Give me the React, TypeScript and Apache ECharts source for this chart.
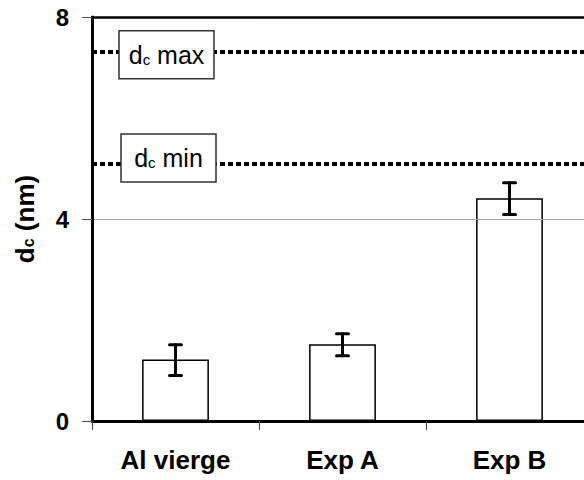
import React, { useEffect, useRef } from "react";
import * as echarts from "echarts";

const categories = ["Al vierge", "Exp A", "Exp B"];
const values = [1.22, 1.52, 4.41];
const errLow = [0.9, 1.29, 4.09];
const errHigh = [1.51, 1.73, 4.72];
const dcMax = 7.31;
const dcMin = 5.09;
const yTicks = [0, 4, 8];

const FONT = "'Liberation Sans', Arial, sans-serif";

export default function App() {
  const ref = useRef<HTMLDivElement>(null);
  useEffect(() => {
    if (!ref.current) return;
    const chart = echarts.init(ref.current, null, { renderer: "svg" });
    const option: any = {
      animation: false,
      grid: {
        left: 92,
        top: 17,
        bottom: 59,
        right: 0,
        outerBoundsMode: "none",
        containLabel: false,
        show: false,
      },
      xAxis: [
        {
          type: "category",
          data: categories,
          boundaryGap: true,
          axisLine: { show: true, lineStyle: { color: "#000", width: 3 } },
          axisTick: { show: true, length: 9, lineStyle: { color: "#444", width: 1 } },
          axisLabel: {
            color: "#000",
            fontSize: 26,
            fontWeight: "bold",
            fontFamily: FONT,
            margin: 26,
          },
          splitLine: { show: false },
          z: 5,
        },
        {
          type: "category",
          data: categories,
          position: "top",
          axisLine: { show: true, lineStyle: { color: "#000", width: 2.5 } },
          axisTick: { show: false },
          axisLabel: { show: false },
          splitLine: { show: false },
          z: 5,
        },
      ],
      yAxis: {
        type: "value",
        min: yTicks[0],
        max: yTicks[yTicks.length - 1],
        interval: 4,
        axisLine: { show: true, lineStyle: { color: "#000", width: 3 } },
        axisTick: { show: true, length: 10, lineStyle: { color: "#555", width: 1 } },
        axisLabel: {
          color: "#000",
          fontSize: 24,
          fontWeight: "bold",
          fontFamily: FONT,
          margin: 23,
        },
        splitLine: { show: true, lineStyle: { color: "#a8a8a8", width: 1 } },
        name: "{b|d}{s|c}{b| (nm)}",
        nameLocation: "middle",
        nameGap: 54,
        nameRotate: 90,
        nameTextStyle: {
          rich: {
            b: { fontSize: 26, fontWeight: "bold", fontFamily: FONT, color: "#000" },
            s: { fontSize: 16, fontWeight: "bold", fontFamily: FONT, color: "#000", verticalAlign: "bottom", padding: [0, 0, 2, 0] },
          },
        },
        z: 5,
      },
      series: [
        {
          type: "bar",
          data: values,
          barWidth: "40%",
          itemStyle: { color: "#fff", borderColor: "#000", borderWidth: 1.5 },
          markLine: {
            silent: true,
            symbol: "none",
            label: { show: false },
            lineStyle: { color: "#000", width: 4, type: [5, 3] },
            data: [{ yAxis: dcMax }, { yAxis: dcMin }],
          },
        },
        {
          type: "custom",
          z: 4,
          data: categories.map((_, i) => [i, errLow[i], errHigh[i]]),
          renderItem: (params: any, api: any) => {
            const lo = api.coord([api.value(0), api.value(1)]);
            const hi = api.coord([api.value(0), api.value(2)]);
            const cap = 6;
            const st = { stroke: "#000", lineWidth: 3, lineCap: "round" };
            return {
              type: "group",
              children: [
                { type: "line", shape: { x1: lo[0], y1: hi[1], x2: lo[0], y2: lo[1] }, style: st },
                { type: "line", shape: { x1: lo[0] - cap, y1: hi[1], x2: lo[0] + cap, y2: hi[1] }, style: st },
                { type: "line", shape: { x1: lo[0] - cap, y1: lo[1], x2: lo[0] + cap, y2: lo[1] }, style: st },
              ],
            };
          },
        },
      ],
    };
    chart.setOption(option);

    const yMax = chart.convertToPixel({ yAxisIndex: 0 }, dcMax) as number;
    const yMin = chart.convertToPixel({ yAxisIndex: 0 }, dcMin) as number;
    const rich = {
      d: { fontSize: 25, fontFamily: FONT, fill: "#000" },
      s: { fontSize: 15, fontFamily: FONT, fill: "#000", verticalAlign: "bottom", padding: [0, 0, 0, 0] },
    };
    const box = (x: number, cy: number, label: string) => [
      {
        type: "rect",
        z: 100,
        shape: { x: x, y: cy - 24, width: 95, height: 48 },
        style: { fill: "#fff", stroke: "#333", lineWidth: 1.5 },
      },
      {
        type: "text",
        z: 101,
        x: x + 47.5,
        y: cy,
        style: {
          text: "{d|d}{s|c}{d| " + label + "}",
          rich,
          align: "center",
          verticalAlign: "middle",
        },
      },
    ];
    chart.setOption({
      graphic: [...box(119, yMax + 3, "max"), ...box(121, yMin - 6, "min")],
    });

    return () => chart.dispose();
  }, []);
  return (
    <div
      style={{
        position: "absolute",
        left: 0,
        top: 0,
        width: 584,
        height: 480,
        overflow: "hidden",
        background: "#fff",
      }}
    >
      <div ref={ref} style={{ width: 593, height: 480 }} />
    </div>
  );
}
